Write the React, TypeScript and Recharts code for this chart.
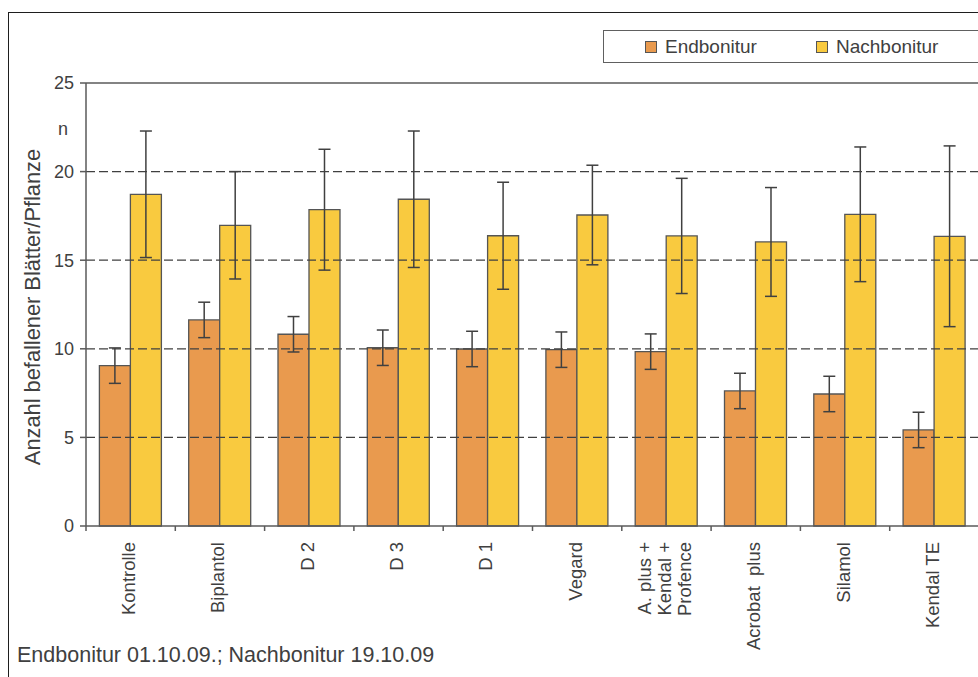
import { BarChart, Bar, XAxis, YAxis, ReferenceLine, ErrorBar } from 'recharts';

// Kategorien (Behandlungen), Zeilenumbruch mit \n
const categories = [
  'Kontrolle',
  'Biplantol',
  'D 2',
  'D 3',
  'D 1',
  'Vegard',
  'A. plus +\nKendal +\nProfence',
  'Acrobat  plus',
  'Silamol',
  'Kendal TE',
];

// Endbonitur 01.10.09
const endbonitur = [9.05, 11.63, 10.82, 10.06, 9.99, 9.95, 9.84, 7.62, 7.45, 5.42];
const endbeniturErr = [1.0, 1.0, 1.0, 1.0, 1.0, 1.0, 1.0, 1.0, 1.0, 1.0];

// Nachbonitur 19.10.09
const nachbonitur = [18.72, 16.97, 17.85, 18.44, 16.38, 17.55, 16.37, 16.03, 17.59, 16.35];
const nachbeniturErr = [3.57, 3.03, 3.41, 3.85, 3.02, 2.81, 3.25, 3.07, 3.8, 5.1];

const yTicks = [0, 5, 10, 15, 20, 25];
const gridValues = [5, 10, 15, 20];

const data = categories.map((name, i) => ({
  name,
  end: endbonitur[i],
  endErr: endbeniturErr[i],
  nach: nachbonitur[i],
  nachErr: nachbeniturErr[i],
}));

const FONT = '"Liberation Sans", Arial, sans-serif';
const TEXT = '#404040';
const AXIS = '#5a5a5a';
const ORANGE = '#E99A4E';
const YELLOW = '#F9CA3F';

const CHART_W = 1000;
const CHART_H = 677;
const PLOT_LEFT = 86;
const PLOT_RIGHT = 979;
const PLOT_TOP = 83;
const PLOT_BOTTOM = 526;
const BAND = (PLOT_RIGHT - PLOT_LEFT) / categories.length;

function CategoryTick(props: any) {
  const { x, index, payload } = props;
  const lines = String(payload.value).split('\n');
  const ty = PLOT_BOTTOM + 16;
  return (
    <g>
      <line x1={x - BAND / 2} x2={x - BAND / 2} y1={PLOT_BOTTOM} y2={PLOT_BOTTOM + 5} stroke={AXIS} strokeWidth={1.5} />
      {index === categories.length - 1 && (
        <line x1={x + BAND / 2} x2={x + BAND / 2} y1={PLOT_BOTTOM} y2={PLOT_BOTTOM + 5} stroke={AXIS} strokeWidth={1.5} />
      )}
      {lines.map((line, i) => {
        const lx = x - 2 + (i - (lines.length - 1) / 2) * 20;
        return (
          <text
            key={i}
            x={lx}
            y={ty}
            dy="0.35em"
            transform={`rotate(-90, ${lx}, ${ty})`}
            textAnchor="end"
            fontSize={18.5}
            fontFamily={FONT}
            fill={TEXT}
            style={{ whiteSpace: 'pre' }}
          >
            {line}
          </text>
        );
      })}
    </g>
  );
}

// Achsentitel und Einheit "n"
function YTitle() {
  return (
    <g>
      <text
        x={32}
        y={307}
        dy="0.35em"
        transform="rotate(-90, 32, 307)"
        textAnchor="middle"
        fontSize={21.8}
        fontFamily={FONT}
        fill={TEXT}
      >
        Anzahl befallener Blätter/Pflanze
      </text>
      <text x={63} y={129} dy="0.35em" textAnchor="middle" fontSize={18} fontFamily={FONT} fill={TEXT}>
        n
      </text>
    </g>
  );
}

function Swatch({ color }: { color: string }) {
  return (
    <span
      style={{
        display: 'inline-block',
        width: 10,
        height: 10,
        background: color,
        border: '1px solid #555',
        marginRight: 8,
      }}
    />
  );
}

export default function App() {
  return (
    <div style={{ position: 'fixed', left: 0, top: 0, width: 978, height: 677, overflow: 'hidden', background: '#fff' }}>
      {/* Rahmen */}
      <div
        style={{
          position: 'absolute',
          left: 8,
          top: 12,
          width: 1100,
          height: 800,
          border: '1.5px solid #1e1e1e',
        }}
      />
      <div style={{ position: 'absolute', left: 0, top: 0 }}>
        <BarChart
          width={CHART_W}
          height={CHART_H}
          data={data}
          margin={{ top: PLOT_TOP, right: CHART_W - PLOT_RIGHT, left: 8, bottom: CHART_H - PLOT_BOTTOM - 140 }}
          barCategoryGap="15%"
          barGap={0}
        >
          {gridValues.map((v) => (
            <ReferenceLine key={v} y={v} stroke="#404040" strokeWidth={1.3} strokeDasharray="9 4" />
          ))}
          <ReferenceLine y={25} stroke={AXIS} strokeWidth={1.5} />
          <XAxis
            dataKey="name"
            interval={0}
            height={140}
            axisLine={{ stroke: AXIS, strokeWidth: 1.5 }}
            tickLine={false}
            tick={<CategoryTick />}
          />
          <YAxis
            type="number"
            domain={[0, 25]}
            ticks={yTicks}
            interval={0}
            width={78}
            axisLine={{ stroke: AXIS, strokeWidth: 1.5 }}
            tickLine={{ stroke: AXIS, strokeWidth: 1.5 }}
            tickSize={6}
            tickMargin={6}
            tick={{ fill: TEXT, fontSize: 18, fontFamily: FONT }}
            label={{ content: () => <YTitle /> }}
          />
          <Bar dataKey="end" fill={ORANGE} stroke="#555" strokeWidth={1.3} isAnimationActive={false}>
            <ErrorBar dataKey="endErr" width={6} stroke="#404040" strokeWidth={1.5} direction="y" isAnimationActive={false} />
          </Bar>
          <Bar dataKey="nach" fill={YELLOW} stroke="#555" strokeWidth={1.3} isAnimationActive={false}>
            <ErrorBar dataKey="nachErr" width={6} stroke="#404040" strokeWidth={1.5} direction="y" isAnimationActive={false} />
          </Bar>
        </BarChart>
      </div>
      {/* Legende */}
      <div
        style={{
          position: 'absolute',
          left: 603,
          top: 30,
          width: 500,
          height: 31,
          border: '1.5px solid #606060',
          fontFamily: FONT,
          fontSize: 19,
          color: TEXT,
          display: 'flex',
          alignItems: 'center',
        }}
      >
        <span style={{ position: 'absolute', left: 41, display: 'flex', alignItems: 'center' }}>
          <Swatch color={ORANGE} />
          Endbonitur
        </span>
        <span style={{ position: 'absolute', left: 212, display: 'flex', alignItems: 'center' }}>
          <Swatch color={YELLOW} />
          Nachbonitur
        </span>
      </div>
      {/* Fußnote */}
      <div
        style={{
          position: 'absolute',
          left: 17,
          top: 643,
          fontFamily: FONT,
          fontSize: 21.5,
          color: TEXT,
          lineHeight: '24px',
          whiteSpace: 'nowrap',
        }}
      >
        Endbonitur 01.10.09.; Nachbonitur 19.10.09
      </div>
    </div>
  );
}
